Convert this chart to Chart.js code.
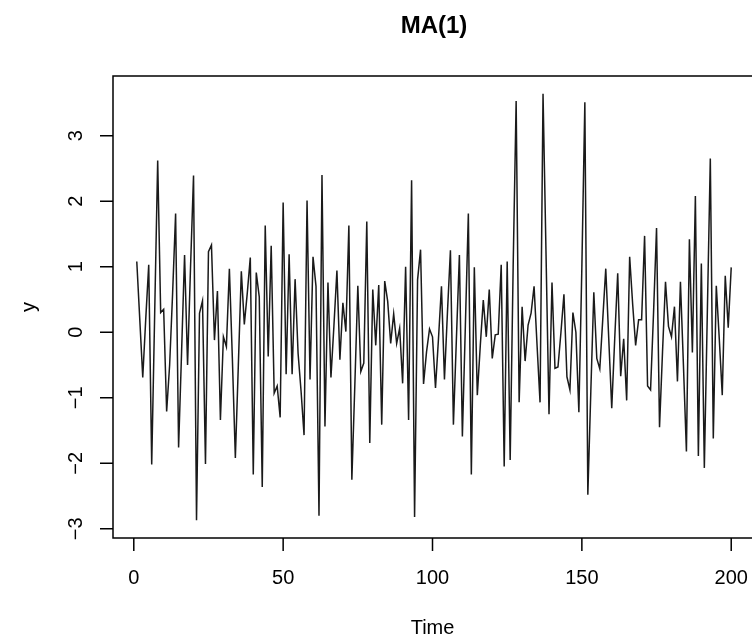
<!DOCTYPE html>
<html>
<head>
<meta charset="utf-8">
<script src="https://cdn.jsdelivr.net/npm/chart.js@4/dist/chart.umd.min.js"></script>
<style>
  html, body { margin: 0; padding: 0; background: #fff; overflow: hidden; width: 752px; height: 640px; }
  #wrap { width: 755px; height: 640px; position: relative; }
</style>
</head>
<body>
<div id="wrap"><canvas id="c"></canvas></div>
<script>
// Time series MA(1), t = 1..200
const y001_050 = [1.08, 0.2, -0.69, 0.2, 1.03, -2.02, 0.3, 2.62, 0.30, 0.35,
  -1.21, -0.5, 0.6, 1.81, -1.76, -0.3, 1.18, -0.50, 1.0, 2.39,
  -2.87, 0.29, 0.48, -2.01, 1.23, 1.33, -0.12, 0.63, -1.34, -0.07,
  -0.22, 0.97, -0.4, -1.92, -0.5, 0.93, 0.12, 0.6, 1.14, -2.17,
  0.91, 0.54, -2.36, 1.63, -0.37, 1.32, -0.93, -0.82, -1.30, 1.98];
const y051_100 = [-0.64, 1.19, -0.64, 0.81, -0.32, -0.9, -1.57, 2.01, -0.72, 1.15,
  0.7, -2.80, 2.40, -1.44, 0.76, -0.69, 0.1, 0.94, -0.42, 0.45,
  0.01, 1.63, -2.25, -0.8, 0.71, -0.60, -0.47, 1.69, -1.69, 0.65,
  -0.20, 0.72, -1.41, 0.78, 0.47, -0.17, 0.28, -0.17, 0.06, -0.78,
  1.00, -1.34, 2.32, -2.82, 0.8, 1.26, -0.79, -0.3, 0.05, -0.07];
const y101_150 = [-0.85, -0.1, 0.70, -0.72, 0.3, 1.25, -1.41, -0.1, 1.18, -1.59,
  0.1, 1.81, -2.17, 0.99, -0.96, -0.2, 0.49, -0.07, 0.65, -0.40,
  -0.04, -0.03, 1.03, -2.05, 1.08, -1.95, 1.0, 3.53, -1.07, 0.39,
  -0.44, 0.11, 0.29, 0.70, -0.2, -1.07, 3.64, 1.2, -1.25, 0.76,
  -0.55, -0.53, 0.0, 0.58, -0.68, -0.88, 0.30, 0.0, -1.22, 1.0];
const y151_200 = [3.51, -2.48, -0.9, 0.61, -0.40, -0.56, 0.2, 0.97, -0.1, -1.16,
  -0.1, 0.90, -0.67, -0.10, -1.04, 1.15, 0.43, -0.20, 0.19, 0.19,
  1.47, -0.82, -0.88, 0.3, 1.59, -1.45, -0.3, 0.77, 0.09, -0.07,
  0.39, -0.75, 0.77, -0.5, -1.82, 1.42, -0.31, 2.08, -1.89, 1.05,
  -2.07, 0.3, 2.65, -1.62, 0.71, -0.1, -0.96, 0.86, 0.07, 0.99];

const xTickValues = [0, 50, 100, 150, 200];
const yTickValues = [-3, -2, -1, 0, 1, 2, 3];
const titleText = "MA(1)";
const xTitle = "Time";
const yTitle = "y";

const yValues = [].concat(y001_050, y051_100, y101_150, y151_200);
const points = yValues.map((v, i) => ({ x: i + 1, y: v }));

const FONT = "'Liberation Sans', Arial, Helvetica, sans-serif";

const rBase = {
  id: 'rBase',
  afterDraw(chart) {
    const ctx = chart.ctx;
    const a = chart.chartArea;
    const xs = chart.scales.x, ys = chart.scales.y;
    ctx.save();
    ctx.strokeStyle = '#000';
    ctx.lineWidth = 1.5;
    // box
    ctx.strokeRect(a.left, a.top, a.right - a.left, a.bottom - a.top);
    // x ticks
    ctx.fillStyle = '#000';
    ctx.font = '20px ' + FONT;
    ctx.textAlign = 'center';
    ctx.textBaseline = 'middle';
    ctx.beginPath();
    xTickValues.forEach(v => {
      const px = xs.getPixelForValue(v);
      ctx.moveTo(px, a.bottom);
      ctx.lineTo(px, a.bottom + 13);
    });
    ctx.stroke();
    xTickValues.forEach(v => {
      ctx.fillText(String(v), xs.getPixelForValue(v), a.bottom + 40);
    });
    // y ticks
    ctx.beginPath();
    yTickValues.forEach(v => {
      const py = ys.getPixelForValue(v);
      ctx.moveTo(a.left, py);
      ctx.lineTo(a.left - 13, py);
    });
    ctx.stroke();
    yTickValues.forEach(v => {
      const py = ys.getPixelForValue(v);
      ctx.save();
      ctx.translate(a.left - 37, py);
      ctx.rotate(-Math.PI / 2);
      ctx.fillText(v < 0 ? '\u2212' + Math.abs(v) : String(v), 0, 0);
      ctx.restore();
    });
    // axis titles
    ctx.fillText(xTitle, (xs.getPixelForValue(0) + xs.getPixelForValue(200)) / 2, a.bottom + 90);
    ctx.save();
    ctx.translate(29, (a.top + a.bottom) / 2);
    ctx.rotate(-Math.PI / 2);
    ctx.fillText(yTitle, 0, 0);
    ctx.restore();
    // main title
    ctx.font = 'bold 24px ' + FONT;
    ctx.fillText(titleText, (a.left + a.right) / 2, 26);
    ctx.restore();
  }
};

new Chart(document.getElementById('c'), {
  type: 'line',
  data: {
    datasets: [{
      data: points,
      borderColor: '#1a1a1a',
      borderWidth: 1.5,
      pointRadius: 0,
      tension: 0,
      fill: false
    }]
  },
  options: {
    responsive: true,
    maintainAspectRatio: false,
    animation: false,
    parsing: true,
    layout: { padding: { left: 113, top: 76, right: 0, bottom: 102 } },
    plugins: { legend: { display: false }, tooltip: { enabled: false }, title: { display: false } },
    scales: {
      x: { type: 'linear', min: -6.96, max: 207.96, display: false },
      y: { type: 'linear', min: -3.14, max: 3.91, display: false }
    }
  },
  plugins: [rBase]
});
</script>
</body>
</html>
